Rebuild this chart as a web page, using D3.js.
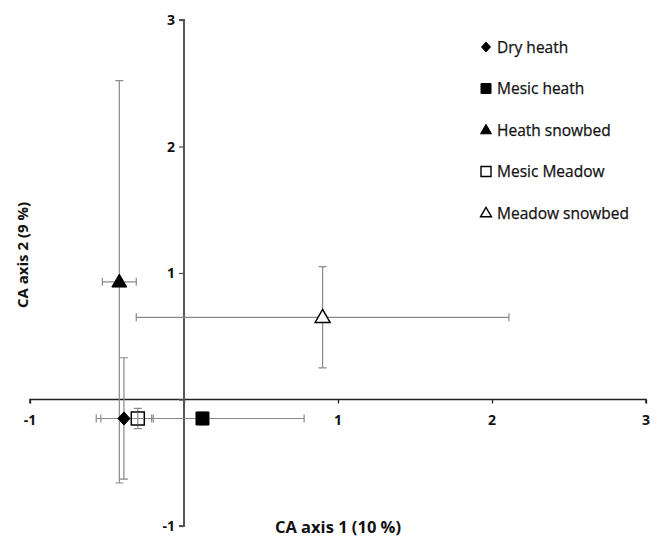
<!DOCTYPE html>
<html><head><meta charset="utf-8">
<script src="https://cdn.jsdelivr.net/npm/d3@7"></script>
<style>body{margin:0;background:#fff}svg{display:block}</style>
</head><body>
<svg id="c" width="660" height="545"></svg>
<script>
const groups = ["Dry heath","Mesic heath","Heath snowbed","Mesic Meadow","Meadow snowbed"];
const xVals = [-0.39, 0.12, -0.42, -0.30, 0.90];
const yVals = [-0.15, -0.15, 0.93, -0.15, 0.65];
const xErr  = [0.18, 0.66, 0.11, 0.10, 1.21];
const yErr  = [0.48, 0.05, 1.59, 0.08, 0.40];
const shapes = ["diamond","square","triangle","square","triangle"];
const filled = [true,true,true,false,false];
const xTicks = [-1,1,2,3];
const yTicks = [-1,1,2,3];

const svg = d3.select("#c");
const x = d3.scaleLinear().domain([-1,3]).range([30,646]);
const y = d3.scaleLinear().domain([-1,3]).range([526,20]);
const font = "'Open Sans', sans-serif";

function shapePath(s, r){
  if(s==="diamond") return `M0,${-r*1.1}L${r},0L0,${r*1.1}L${-r},0Z`;
  if(s==="square") return `M${-r},${-r}H${r}V${r}H${-r}Z`;
  const h=r*2*Math.sqrt(3)/2; return `M0,${-h*0.6}L${r},${h*0.4}L${-r},${h*0.4}Z`;
}

// axes
const xa = svg.append("g").attr("transform",`translate(0,${y(0)})`)
  .call(d3.axisBottom(x).tickValues([-1,0,1,2,3]).tickSize(4).tickFormat(""));
xa.select(".domain").attr("stroke","#222").attr("stroke-width",1.5).attr("d",`M${x(-1)},4V0H${x(3)}V4`);
xa.selectAll(".tick line").attr("stroke","#222").attr("stroke-width",1.3);
const ya = svg.append("g").attr("transform",`translate(${x(0)},0)`)
  .call(d3.axisLeft(y).tickValues([-1,0,1,2,3]).tickSize(5).tickFormat(""));
ya.select(".domain").attr("stroke","#555").attr("stroke-width",2).attr("d",`M-5,${y(3)}H0V${y(-1)}H-5`);
ya.selectAll(".tick line").attr("stroke","#555").attr("stroke-width",1.3);

svg.append("g").selectAll("text").data(xTicks).join("text")
  .attr("x",d=>x(d)).attr("y",y(0)+25).attr("text-anchor","middle")
  .attr("font-family",font).attr("font-weight","bold").attr("font-size",14).attr("fill","#111")
  .text(d=>d);
svg.append("g").selectAll("text").data(yTicks).join("text")
  .attr("x",x(0)-9).attr("y",d=>y(d)+5).attr("text-anchor","end")
  .attr("font-family",font).attr("font-weight","bold").attr("font-size",14).attr("fill","#111")
  .text(d=>d);

// error bars
const eb = svg.append("g").attr("stroke","#8a8a8a").attr("stroke-width",1.2).attr("fill","none");
groups.forEach((g,i)=>{
  const cx=x(xVals[i]), cy=y(yVals[i]);
  const x0=x(xVals[i]-xErr[i]), x1=x(xVals[i]+xErr[i]);
  const y0=y(yVals[i]-yErr[i]), y1=y(yVals[i]+yErr[i]);
  eb.append("path").attr("d",`M${x0},${cy}H${x1}M${x0},${cy-4}V${cy+4}M${x1},${cy-4}V${cy+4}`);
  eb.append("path").attr("d",`M${cx},${y0}V${y1}M${cx-4},${y0}H${cx+4}M${cx-4},${y1}H${cx+4}`);
});

// markers
svg.append("g").selectAll("path").data(groups).join("path")
  .attr("transform",(d,i)=>`translate(${x(xVals[i])},${y(yVals[i])})`)
  .attr("d",(d,i)=>shapePath(shapes[i], shapes[i]==="triangle"?7.5:(shapes[i]==="square"?6.5:6)))
  .attr("fill",(d,i)=>filled[i]?"#000":"#fff")
  .attr("stroke","#000").attr("stroke-width",(d,i)=>filled[i]?1:1.5);
svg.append("g").selectAll("path").data(groups.filter((d,i)=>!filled[i] && shapes[i]==="square")).join("path")
  .attr("d",d=>{const i=groups.indexOf(d);const cx=x(xVals[i]),cy=y(yVals[i]);return `M${cx-6},${cy}H${cx+6}M${cx},${cy-6}V${cy+6}`;})
  .attr("stroke","#8a8a8a").attr("stroke-width",1.2);

// legend
const lg = svg.append("g");
groups.forEach((g,i)=>{
  const ly = 47 + i*41.5;
  lg.append("path").attr("transform",`translate(486,${ly})`)
    .attr("d",shapePath(shapes[i], shapes[i]==="triangle"?5.5:(shapes[i]==="square"?5:4.5)))
    .attr("fill",filled[i]?"#000":"#fff").attr("stroke","#000").attr("stroke-width",filled[i]?1:1.4);
  lg.append("text").attr("x",497).attr("y",ly+5.5).attr("font-family",font).attr("font-size",15.5)
    .attr("fill","#111").attr("stroke","#111").attr("stroke-width",0.25).text(g);
});

// axis titles
svg.append("text").attr("x",338).attr("y",533).attr("text-anchor","middle")
  .attr("font-family",font).attr("font-weight","bold").attr("font-size",16.5).attr("fill","#111")
  .text("CA axis 1 (10 %)");
svg.append("text").attr("transform","translate(28,255) rotate(-90)").attr("text-anchor","middle")
  .attr("font-family",font).attr("font-weight","bold").attr("font-size",15).attr("fill","#111")
  .text("CA axis 2 (9 %)");
</script>
</body></html>
